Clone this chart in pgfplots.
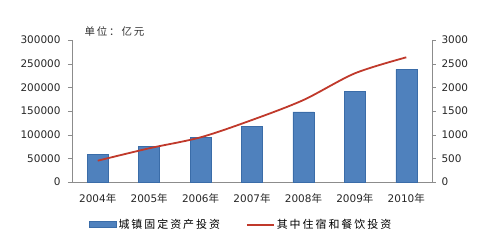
\documentclass[border=0pt]{standalone}
\usepackage{fontspec}
\setmainfont{DejaVu Sans}
\newfontfamily\cjk[LetterSpace=18]{Noto Sans CJK SC}
\usepackage{pgfplots}
\pgfplotsset{compat=1.18}
\definecolor{barblue}{HTML}{4F81BD}
\definecolor{baredge}{HTML}{3A6CA8}
\definecolor{linered}{HTML}{C0392B}
\definecolor{axgray}{HTML}{8C8C8C}
\begin{document}
\begin{tikzpicture}
\path[use as bounding box] (0,0) rectangle (480bp,243bp);
\begin{axis}[
  at={(72bp,61bp)}, anchor=south west,
  scale only axis, width=360bp, height=142bp,
  xmin=-0.5, xmax=6.5, ymin=0, ymax=300000,
  axis x line*=bottom, axis y line*=left,
  axis line style={axgray},
  xtick={0,...,6},
  xticklabels={2004{\cjk 年},2005{\cjk 年},2006{\cjk 年},2007{\cjk 年},2008{\cjk 年},2009{\cjk 年},2010{\cjk 年}},
  xtick style={draw=none},
  minor xtick={-0.5,0.5,...,6.5},
  minor tick length=4bp,
  minor x tick style={axgray},
  ytick={0,50000,...,300000},
  ytick style={axgray},
  major tick length=4bp,
  tick align=outside,
  scaled y ticks=false,
  /pgf/number format/fixed,
  /pgf/number format/precision=0,
  /pgf/number format/1000 sep={},
  /pgf/number format/assume math mode=true,
  tick label style={font=\fontsize{10.5}{12}\selectfont, text=black!85},
  xticklabel style={yshift=-4bp},
  y tick label style={xshift=-4bp},
  clip=false,
]
\addplot[ybar, bar width=21bp, fill=barblue, draw=baredge] coordinates {
  (0,58500) (1,76000) (2,94000) (3,118000) (4,148000) (5,191000) (6,238000)};
\node[anchor=west, font=\cjk\fontsize{10.5}{12}\selectfont, text=black!80] at (rel axis cs:0.025,1.06) {单位：亿元};
\end{axis}
\begin{axis}[
  at={(72bp,61bp)}, anchor=south west,
  scale only axis, width=360bp, height=142bp,
  xmin=-0.5, xmax=6.5, ymin=0, ymax=3000,
  axis x line=none, axis y line*=right,
  axis line style={axgray},
  ytick={0,500,...,3000},
  ytick style={axgray},
  major tick length=4bp,
  tick align=outside,
  /pgf/number format/fixed,
  /pgf/number format/precision=0,
  /pgf/number format/1000 sep={},
  /pgf/number format/assume math mode=true,
  tick label style={font=\fontsize{10.5}{12}\selectfont, text=black!85},
  y tick label style={xshift=2bp},
  legend style={at={(0.47,-0.30)}, anchor=center, draw=none, fill=none,
    legend columns=2, font=\cjk\fontsize{11}{12}\selectfont,
    /tikz/every even column/.append style={column sep=24bp}},
  legend cell align=left,
  clip=false,
]
\addlegendimage{legend image code/.code={\fill[barblue, draw=baredge] (0bp,-3bp) rectangle (27bp,3bp);}}
\addlegendentry{城镇固定资产投资}
\addplot[linered, line width=1.8bp, smooth, tension=0.5,
  legend image code/.code={\draw[linered, line width=1.8bp] (0bp,0bp) -- (27bp,0bp);}] coordinates {
  (0,450) (1,712) (2,944) (3,1310) (4,1732) (5,2296) (6,2634)};
\addlegendentry{其中住宿和餐饮投资}
\end{axis}
\end{tikzpicture}
\end{document}
